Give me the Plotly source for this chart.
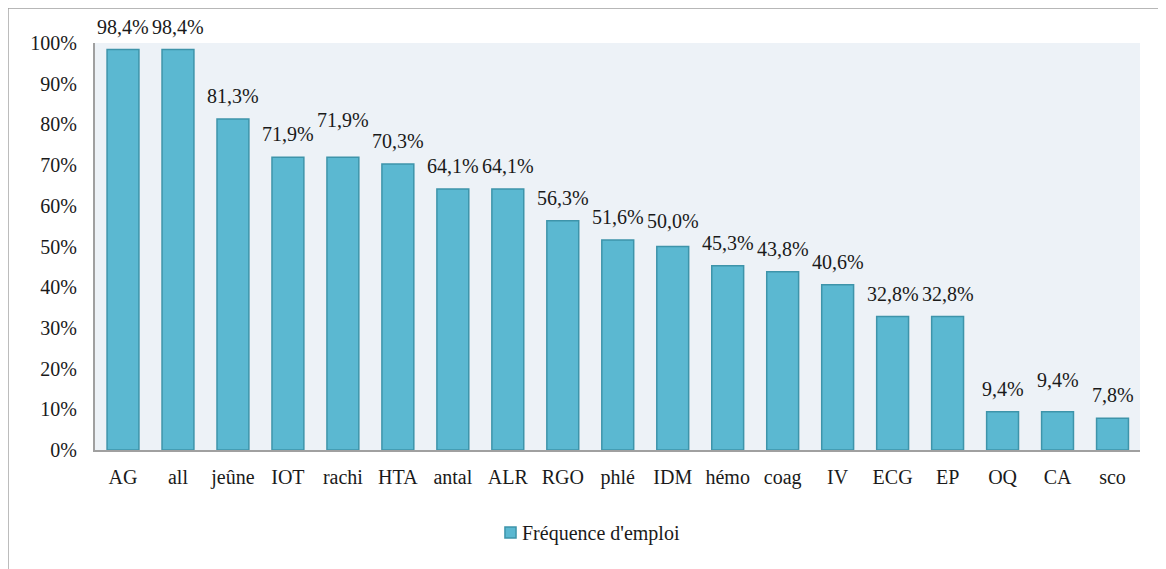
import plotly.graph_objects as go

categories = ["AG", "all", "jeûne", "IOT", "rachi", "HTA", "antal", "ALR", "RGO", "phlé",
              "IDM", "hémo", "coag", "IV", "ECG", "EP", "OQ", "CA", "sco"]
values = [98.4, 98.4, 81.3, 71.9, 71.9, 70.3, 64.1, 64.1, 56.3, 51.6,
          50.0, 45.3, 43.8, 40.6, 32.8, 32.8, 9.4, 9.4, 7.8]
labels = [f"{v:.1f}%".replace(".", ",") for v in values]
tick_vals = [0, 10, 20, 30, 40, 50, 60, 70, 80, 90, 100]
tick_text = [f"{t}%" for t in tick_vals]
series_name = "Fréquence d'emploi"

FONT = "Liberation Serif"
TXT = "#1a1a1a"
BAR_FILL = "#5BB8D1"
BAR_LINE = "#3E94AA"

# extra label lift (px) for labels the original renderer nudged upward
extra_lift = {"rachi": 14, "CA": 9, "IDM": 3}

fig = go.Figure()
fig.add_trace(go.Bar(
    x=categories, y=values, name=series_name,
    marker=dict(color=BAR_FILL, line=dict(color=BAR_LINE, width=1.5)),
    showlegend=False,
))

for c, v, t in zip(categories, values, labels):
    fig.add_annotation(x=c, y=v, text=t, showarrow=False, yanchor="bottom",
                       yshift=10 + extra_lift.get(c, 0),
                       font=dict(size=20, color=TXT, family=FONT))

# outer chart border (paper edge)
fig.add_shape(type="rect", xref="paper", yref="paper",
              x0=-0.0833, x1=1.2, y0=-0.5, y1=1.086,
              line=dict(color="#A0A0A0", width=1.5), fillcolor="rgba(0,0,0,0)", layer="below")

# legend (swatch + label), drawn to match the original compact spacing
fig.add_shape(type="rect", xref="paper", yref="paper",
              x0=0.3923, x1=0.4029, y0=-0.2162, y1=-0.1892,
              line=dict(color=BAR_LINE, width=1.5), fillcolor=BAR_FILL)
fig.add_annotation(xref="paper", yref="paper", x=0.4067, y=-0.204,
                   xanchor="left", yanchor="middle", showarrow=False,
                   text=series_name, font=dict(size=20, color=TXT, family=FONT))

fig.update_layout(
    width=1166, height=569,
    margin=dict(l=87, r=34, t=35, b=127),
    paper_bgcolor="white",
    plot_bgcolor="#EDF2F7",
    bargap=0.42,
    font=dict(family=FONT, size=20, color=TXT),
    showlegend=False,
    xaxis=dict(showline=True, linecolor="#A0A0A0", linewidth=2, showgrid=False,
               ticks="outside", ticklen=8, tickcolor="rgba(0,0,0,0)",
               tickfont=dict(size=20, family=FONT, color=TXT)),
    yaxis=dict(range=[0, 100], tickvals=tick_vals, ticktext=tick_text,
               showline=True, linecolor="#A0A0A0", linewidth=2, showgrid=False,
               zeroline=False, ticks="outside", ticklen=12, tickcolor="rgba(0,0,0,0)",
               tickfont=dict(size=20, family=FONT, color=TXT)),
)

fig.write_html("out.html")
